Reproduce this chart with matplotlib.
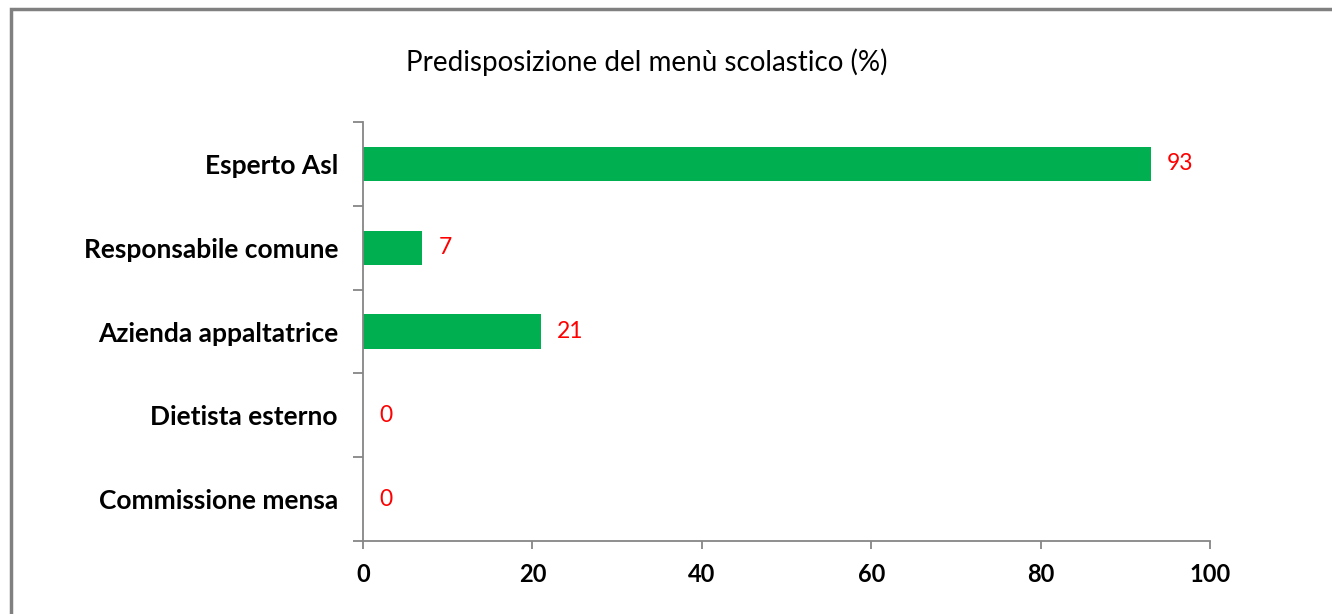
import matplotlib.pyplot as plt
from matplotlib.patches import Rectangle

categories = ["Esperto Asl", "Responsabile comune", "Azienda appaltatrice",
              "Dietista esterno", "Commissione mensa"]
values = [93, 7, 21, 0, 0]
xticks = [0, 20, 40, 60, 80, 100]

plt.rcParams['font.family'] = ['Lato', 'DejaVu Sans']

fig = plt.figure(figsize=(13.32, 6.14), dpi=100)
ax = fig.add_axes([363/1332, 1 - 541/614, (1210-363)/1332, (541-122)/614])

pos = list(range(len(categories)))
ax.barh(pos, values, height=0.41, color="#00B050")
ax.set_ylim(len(categories) - 0.5, -0.5)
ax.set_xlim(0, 100)

for p, v in zip(pos, values):
    ax.annotate(str(v), (v, p), xytext=(11.5, 0), textcoords="offset points",
                va="center", ha="left", color="#FF0000", fontsize=16.5)

gray = "#868686"
for s in ["top", "right"]:
    ax.spines[s].set_visible(False)
for s in ["left", "bottom"]:
    ax.spines[s].set_color(gray)
    ax.spines[s].set_linewidth(1.3)

ax.set_xticks(xticks)
ax.set_xticklabels([str(t) for t in xticks], fontsize=17, fontweight="bold")
ax.tick_params(axis="x", length=6, width=1.3, color=gray, pad=10)

# category ticks sit at the boundaries, labels in the middle
ax.set_yticks([p - 0.5 for p in pos] + [len(categories) - 0.5])
ax.set_yticklabels([])
ax.set_yticks(pos, minor=True)
ax.set_yticklabels(categories, minor=True, fontsize=19, fontweight="bold")
ax.tick_params(axis="y", which="major", length=7, width=1.3, color=gray)
ax.tick_params(axis="y", which="minor", length=0, pad=18)

fig.text(647/1332, 1 - 62/614, "Predisposizione del menù scolastico (%)",
         ha="center", va="center", fontsize=20)

fig.patches.append(Rectangle((11/1332, -0.1), 1.2, 1 - 9/614 + 0.1,
                             transform=fig.transFigure, fill=False,
                             edgecolor="#808080", linewidth=2.5))

fig.savefig("out.png", dpi=100)
